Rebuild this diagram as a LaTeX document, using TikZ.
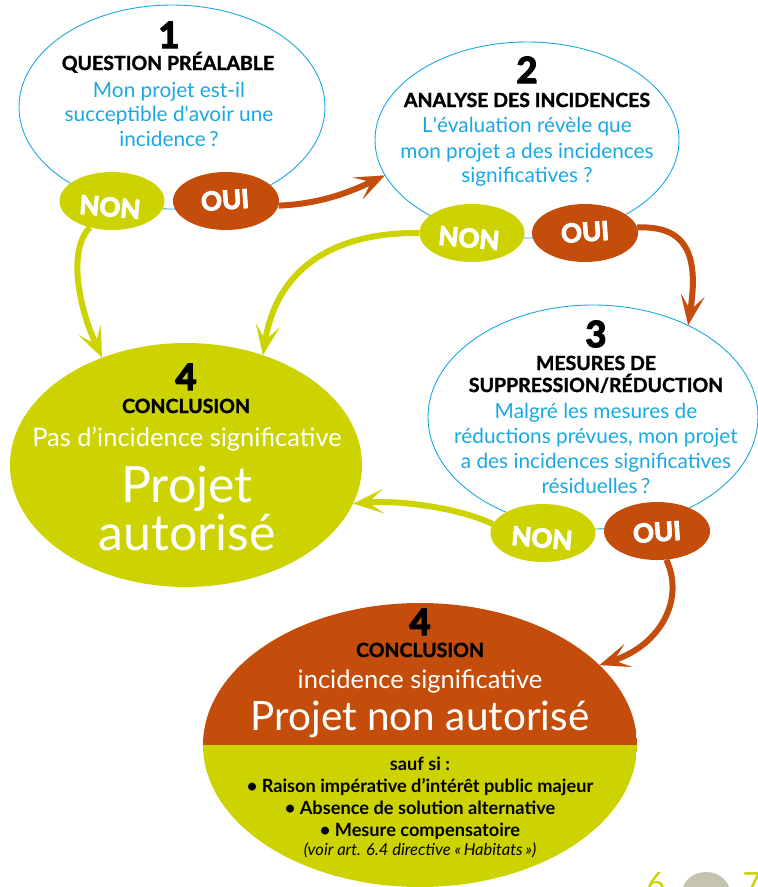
\documentclass[tikz,border=0pt]{standalone}
\usepackage{fontspec}
\setmainfont{Lato}
\newfontfamily\heavyfont[FakeBold=4]{Lato}
\newfontfamily\titlefont[FakeBold=1.5]{Lato}
\usetikzlibrary{arrows.meta,shapes.geometric,backgrounds}
\definecolor{cblue}{RGB}{26,168,227}
\definecolor{cgreen}{RGB}{204,211,0}
\definecolor{corange}{RGB}{196,77,11}
\definecolor{stonecol}{RGB}{196,196,176}
\begin{document}
\begin{tikzpicture}[x=1pt,y=-1pt,
  bigell/.style={ellipse, draw=cblue, line width=0.9pt, fill=white, inner sep=0pt},
  yesell/.style={ellipse, fill=corange, inner sep=0pt, minimum width=106pt, minimum height=58pt},
  noell/.style={ellipse, fill=cgreen, inner sep=0pt, minimum width=105pt, minimum height=58pt},
  yntext/.style={text=white, inner sep=0pt, font=\heavyfont\bfseries\fontsize{26}{26}\selectfont},
  numtext/.style={anchor=base, inner sep=0pt, font=\heavyfont\bfseries\fontsize{36}{36}\selectfont},
  ttltext/.style={anchor=base, inner sep=0pt, font=\titlefont\bfseries\fontsize{19.5}{19.5}\selectfont},
  qtext/.style={anchor=base, inner sep=0pt, text=cblue, font=\fontsize{20.8}{20.8}\selectfont},
  wtext/.style={anchor=base, inner sep=0pt, text=white},
  btext/.style={anchor=base, inner sep=0pt, font=\bfseries\fontsize{18.2}{18.2}\selectfont},
  arrbase/.style={line width=6pt, -{Stealth[length=30pt,width=24pt,inset=15pt,line width=0.1pt]}},
  yesarr/.style={arrbase, draw=corange},
  noarr/.style={arrbase, draw=cgreen},
  pagenum/.style={anchor=base, inner sep=0pt, text=cgreen, font=\fontsize{32}{32}\selectfont}
]
\useasboundingbox (0,0) rectangle (758,887);
\clip (0,0) rectangle (758,887);

% main ellipses
\node[bigell, minimum width=306pt, minimum height=204pt] (e1) at (172,107) {};
\node[bigell, minimum width=304pt, minimum height=196pt] (e2) at (527,140) {};
\node[bigell, minimum width=330pt, minimum height=224pt] (e3) at (593,417) {};
\node[ellipse, fill=cgreen, inner sep=0pt, minimum width=352pt, minimum height=244pt] (e4) at (186,465) {};
\node[ellipse, inner sep=0pt, minimum width=434pt, minimum height=284pt,
  path picture={\fill[corange] (path picture bounding box.north west) rectangle (path picture bounding box.east);
                \fill[cgreen] (path picture bounding box.west) rectangle (path picture bounding box.south east);}] (e5) at (420,745) {};

% answer ellipses
\node[noell] (n1) at (112,201) {};
\node[yesell] (o1) at (226,201) {};
\node[noell] (n2) at (472,233) {};
\node[yesell] (o2) at (585,233) {};
\node[noell] (n3) at (543,533) {};
\node[yesell] (o3) at (657,531) {};
\node[yntext, rotate=-5] (n1t) at (110,207) {NON};
\node[yntext, rotate=4] (o1t) at (225,200) {OUI};
\node[yntext, rotate=-5] (n2t) at (469,238) {NON};
\node[yntext, rotate=4] (o2t) at (585,232) {OUI};
\node[yntext, rotate=-5] (n3t) at (542,538) {NON};
\node[yntext, rotate=4] (o3t) at (657,532) {OUI};

% connectors
\begin{pgfonlayer}{background}
\draw[yesarr] (o1.-5) .. controls (320,204) and (350,192) .. (e2.194);
\draw[noarr] (n1.-130) .. controls (68,250) and (78,305) .. (e4.128);
\draw[noarr] (n2.180) .. controls (320,232) and (275,280) .. (e4.55);
\draw[yesarr] (o2.6) .. controls (690,225) and (698,260) .. (e3.44);
\draw[noarr] (n3.170) .. controls (460,508) and (400,500) .. (e4.-13);
\draw[yesarr] (o3.-72) .. controls (685,600) and (660,645) .. (e5.24);
\end{pgfonlayer}

% box 1
\node[numtext] (num1) at (169,48) {1};
\node[ttltext] (t1) at (168,70) {QUESTION PRÉALABLE};
\node[qtext] (q1a) at (169,97) {Mon projet est-il};
\node[qtext] (q1b) at (169,121) {succeptible d\textquotesingle avoir une};
\node[qtext] (q1c) at (169,146) {incidence\,?};

% box 2
\node[numtext] (num2) at (527,83) {2};
\node[ttltext] (t2) at (527,107) {ANALYSE DES INCIDENCES};
\node[qtext] (q2a) at (527,132) {L\textquotesingle évaluation révèle que};
\node[qtext] (q2b) at (527,158) {mon projet a des incidences};
\node[qtext] (q2c) at (527,182) {significatives ?};

% box 3
\node[numtext] (num3) at (596,347) {3};
\node[ttltext] (t3a) at (596,370) {MESURES DE};
\node[ttltext] (t3b) at (596,392) {SUPPRESSION/RÉDUCTION};
\node[qtext] (q3a) at (596,418) {Malgré les mesures de};
\node[qtext] (q3b) at (596,443) {réductions prévues, mon projet};
\node[qtext] (q3c) at (596,468) {a des incidences significatives};
\node[qtext] (q3d) at (596,493) {résiduelles\,?};

% box 4 (green)
\node[numtext] (num4) at (186,390) {4};
\node[ttltext] (t4) at (186,413) {CONCLUSION};
\node[wtext, font=\fontsize{25.5}{25.5}\selectfont] (w4a) at (187,446) {Pas d’incidence significative};
\node[wtext, font=\fontsize{50}{50}\selectfont] (w4b) at (187,502) {Projet};
\node[wtext, font=\fontsize{50}{50}\selectfont] (w4c) at (187,550) {autorisé};

% box 5 (orange/green)
\node[numtext] (num5) at (420,635) {4};
\node[ttltext] (t5) at (420,657) {CONCLUSION};
\node[wtext, font=\fontsize{25.5}{25.5}\selectfont] (w5a) at (420,688) {incidence significative};
\node[wtext, font=\fontsize{40.5}{40.5}\selectfont] (w5b) at (420,730) {Projet non autorisé};
\node[btext] (s0) at (420,770) {sauf si :};
\node[btext] (s1) at (420,792) {• Raison impérative d’intérêt public majeur};
\node[btext] (s2) at (420,814) {• Absence de solution alternative};
\node[btext] (s3) at (420,836) {• Mesure compensatoire};
\node[anchor=base, inner sep=0pt, font=\itshape\fontsize{16.5}{16.5}\selectfont] (s4) at (420,855) {(voir art. 6.4 directive «\,Habitats\,»)};

% page corner
\fill[stonecol] (706,893) ellipse [x radius=24, y radius=21];
\node[pagenum] (p6) at (656,895) {6};
\node[pagenum] (p7) at (752,895) {7};
\end{tikzpicture}
\end{document}
